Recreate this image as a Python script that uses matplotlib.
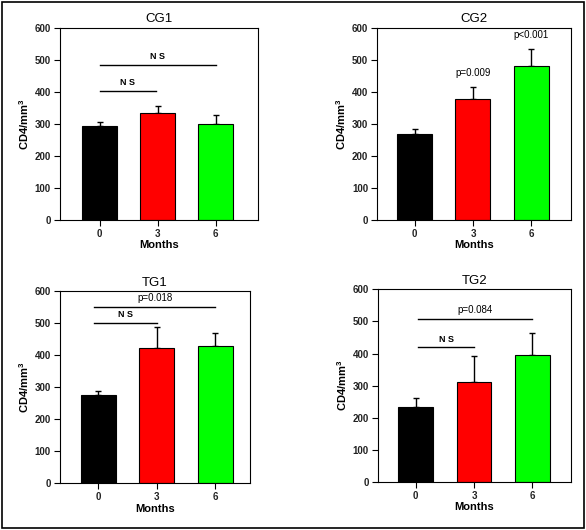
import matplotlib.pyplot as plt
from matplotlib.patches import Rectangle

plt.rcParams['font.family'] = ['Liberation Sans', 'DejaVu Sans']
plt.rcParams['mathtext.fontset'] = 'custom'
plt.rcParams['mathtext.rm'] = 'Liberation Sans'
plt.rcParams['mathtext.bf'] = 'Liberation Sans:bold'

months = ['0', '3', '6']
colors = ['black', '#ff0000', '#00ff00']

# means and upper error (SEM) for each panel
cg1_vals = [294, 333, 299]
cg1_err = [11, 24, 28]
cg2_vals = [268, 378, 482]
cg2_err = [15, 37, 51]
tg1_vals = [276, 424, 429]
tg1_err = [13, 63, 42]
tg2_vals = [232, 312, 395]
tg2_err = [30, 80, 68]

panels = [
    # title, values, errors, axes rect, xlim
    ('CG1', cg1_vals, cg1_err, [0.1024, 0.5849, 0.338, 0.3623], (-0.68, 2.73)),
    ('CG2', cg2_vals, cg2_err, [0.6439, 0.5849, 0.3305, 0.3623], (-0.64, 2.68)),
    ('TG1', tg1_vals, tg1_err, [0.1024, 0.0881, 0.3242, 0.3623], (-0.66, 2.60)),
    ('TG2', tg2_vals, tg2_err, [0.645, 0.0911, 0.3288, 0.3628], (-0.65, 2.66)),
]

fig = plt.figure(figsize=(5.86, 5.30), dpi=100)
axes = {}
for title, vals, err, rect, xl in panels:
    ax = fig.add_axes(rect)
    x = range(len(months))
    ax.bar(x, vals, width=0.6, color=colors, edgecolor='black', linewidth=0.8, zorder=2)
    ax.errorbar(x, vals, yerr=[[0] * len(err), err], fmt='none', ecolor='black',
                elinewidth=1, capsize=2.5, capthick=1, zorder=1)
    ax.set_xlim(*xl)
    ax.set_ylim(0, 600)
    ax.set_yticks(range(0, 601, 100))
    ax.set_xticks(list(x))
    ax.set_xticklabels(months)
    ax.tick_params(direction='out', length=4, width=0.8, pad=2.5,
                   labelsize=7, labelcolor='#222222')
    for lab in ax.get_xticklabels() + ax.get_yticklabels():
        lab.set_fontweight('bold')
    for s in ax.spines.values():
        s.set_linewidth(0.8)
    ax.set_title(title, fontsize=9.5, pad=4)
    ax.set_xlabel('Months', fontsize=8, fontweight='bold', labelpad=1)
    ax.set_ylabel(r'CD4/mm$^\mathbf{3}$', fontsize=8, fontweight='bold', labelpad=3)
    axes[title] = ax


def bracket(ax, x0, x1, y, label, bold=True):
    ax.plot([x0, x1], [y, y], color='black', linewidth=1)
    ax.text((x0 + x1) / 2, y + 12, label, ha='center', va='bottom',
            fontsize=6.5 if bold else 7, fontweight='bold' if bold else 'normal')


bracket(axes['CG1'], 0, 2, 484, 'N S')
bracket(axes['CG1'], 0, 0.97, 404, 'N S')
axes['CG2'].text(1, 415 + 30, 'p=0.009', ha='center', va='bottom', fontsize=7)
axes['CG2'].text(2, 533 + 30, 'p<0.001', ha='center', va='bottom', fontsize=7)
bracket(axes['TG1'], -0.07, 1.0, 500, 'N S')
bracket(axes['TG1'], -0.07, 2.0, 551, 'p=0.018', bold=False)
bracket(axes['TG2'], 0.04, 1.0, 419, 'N S')
bracket(axes['TG2'], 0.04, 2.0, 508, 'p=0.084', bold=False)

fig.patches.append(Rectangle((0.003, 0.003), 0.994, 0.994, transform=fig.transFigure,
                             fill=False, edgecolor='black', linewidth=1.2))

fig.savefig('out.png', dpi=100)
